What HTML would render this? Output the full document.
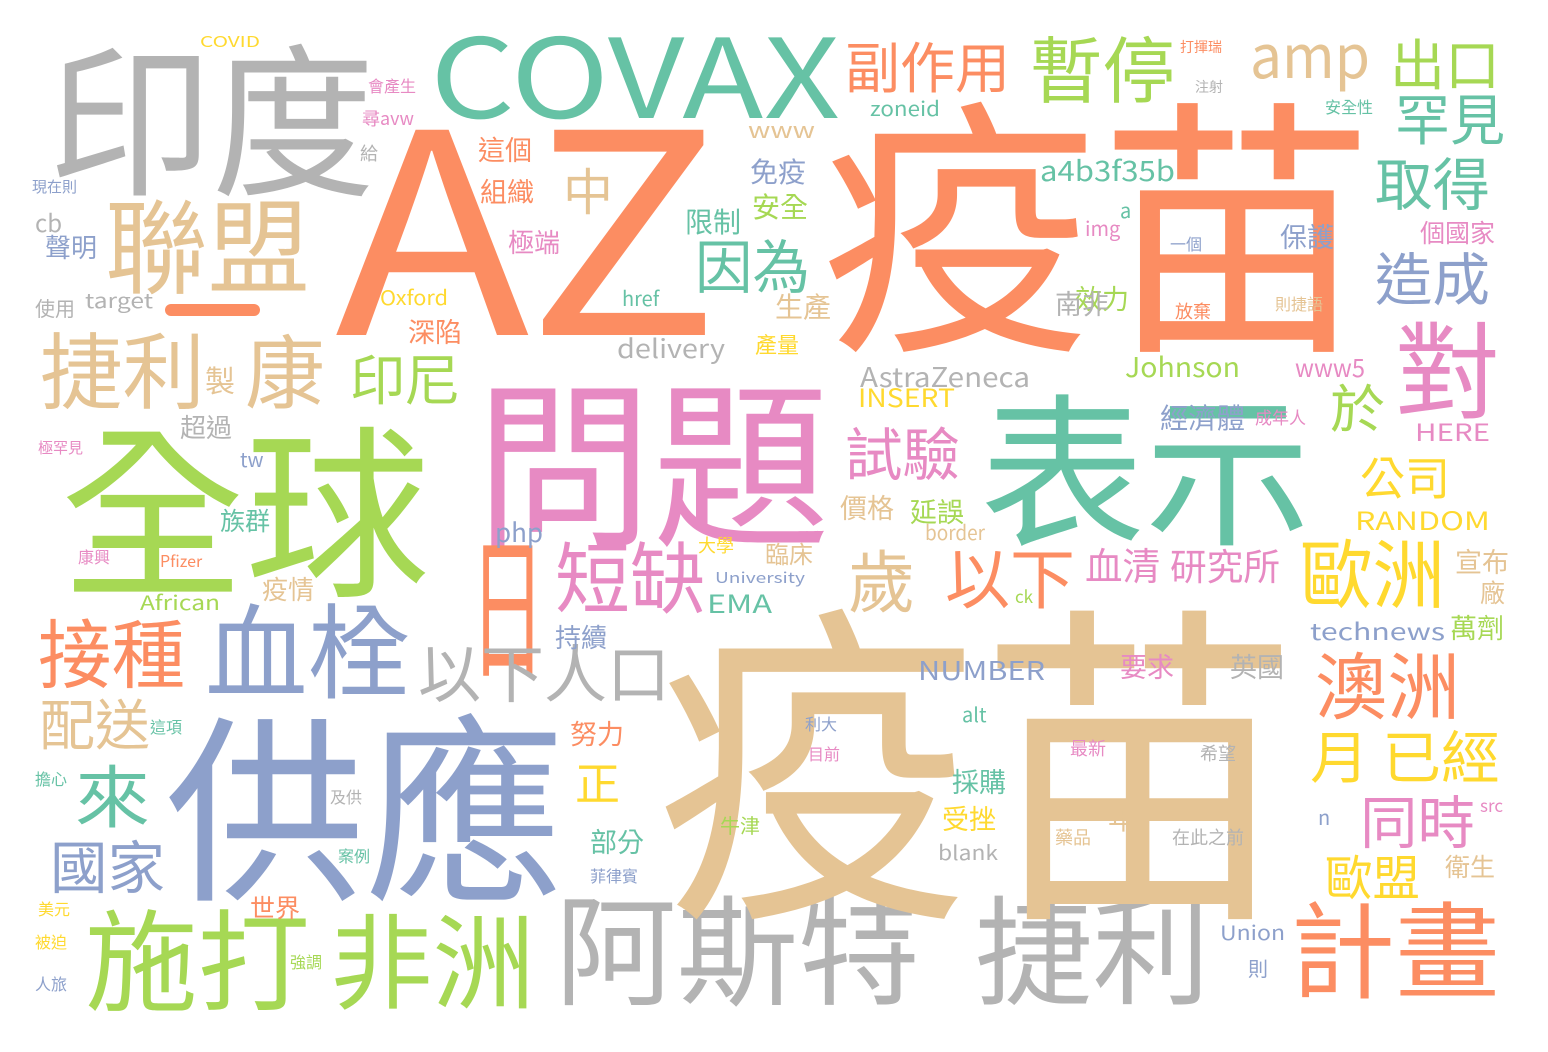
<!DOCTYPE html>
<html><head><meta charset="utf-8">
<style>
html,body{margin:0;padding:0;background:#fff;}
svg{display:block;}
text{font-family:"Noto Sans CJK TC","Liberation Sans",sans-serif;}
.g{fill:#b3b3b3}.o{fill:#fc8d62}.t{fill:#66c2a5}.b{fill:#8da0cb}.p{fill:#e78ac3}.l{fill:#a6d854}.y{fill:#ffd92f}.n{fill:#e5c494}
</style></head>
<body>
<svg width="1548" height="1052" viewBox="0 0 1548 1052">
<rect x="0" y="0" width="1548" height="1052" fill="#fff"/>
<rect x="165" y="304" width="95" height="12" rx="6" fill="#fc8d62"/>
<text class="g" x="48" y="183" font-size="165" textLength="327" lengthAdjust="spacingAndGlyphs">印度</text>
<text class="t" x="430" y="118" font-size="110" textLength="410" lengthAdjust="spacingAndGlyphs">COVAX</text>
<text class="o" x="335" y="335" font-size="280" textLength="385" lengthAdjust="spacingAndGlyphs">AZ</text>
<text class="o" x="820" y="330" font-size="270" textLength="555" lengthAdjust="spacingAndGlyphs">疫苗</text>
<text class="o" x="845" y="88" font-size="55" textLength="165" lengthAdjust="spacingAndGlyphs">副作用</text>
<text class="l" x="1030" y="97" font-size="72" textLength="145" lengthAdjust="spacingAndGlyphs">暫停</text>
<text class="n" x="1250" y="78" font-size="60" textLength="120" lengthAdjust="spacingAndGlyphs">amp</text>
<text class="l" x="1390" y="85" font-size="55" textLength="110" lengthAdjust="spacingAndGlyphs">出口</text>
<text class="t" x="1395" y="140" font-size="55" textLength="110" lengthAdjust="spacingAndGlyphs">罕見</text>
<text class="t" x="1375" y="205" font-size="57" textLength="115" lengthAdjust="spacingAndGlyphs">取得</text>
<text class="b" x="1375" y="300" font-size="57" textLength="115" lengthAdjust="spacingAndGlyphs">造成</text>
<text class="p" x="1395" y="410" font-size="105" textLength="105" lengthAdjust="spacingAndGlyphs">對</text>
<text class="n" x="105" y="285" font-size="103" textLength="205" lengthAdjust="spacingAndGlyphs">聯盟</text>
<text class="n" x="40" y="402" font-size="83" textLength="165" lengthAdjust="spacingAndGlyphs">捷利</text>
<text class="n" x="245" y="402" font-size="80" textLength="80" lengthAdjust="spacingAndGlyphs">康</text>
<text class="n" x="205" y="392" font-size="30">製</text>
<text class="l" x="60" y="582" font-size="185" textLength="370" lengthAdjust="spacingAndGlyphs">全球</text>
<text class="p" x="475" y="532" font-size="180" textLength="355" lengthAdjust="spacingAndGlyphs">問題</text>
<text class="t" x="980" y="533" font-size="165" textLength="330" lengthAdjust="spacingAndGlyphs">表示</text>
<text class="o" x="470" y="665" font-size="155" textLength="75" lengthAdjust="spacingAndGlyphs">日</text>
<text class="p" x="555" y="607" font-size="78" textLength="150" lengthAdjust="spacingAndGlyphs">短缺</text>
<text class="n" x="848" y="607" font-size="68" textLength="67" lengthAdjust="spacingAndGlyphs">歲</text>
<text class="o" x="945" y="603" font-size="66" textLength="130" lengthAdjust="spacingAndGlyphs">以下</text>
<text class="p" x="1085" y="580" font-size="38" textLength="75" lengthAdjust="spacingAndGlyphs">血清</text>
<text class="p" x="1170" y="580" font-size="37" textLength="110" lengthAdjust="spacingAndGlyphs">研究所</text>
<text class="y" x="1300" y="602" font-size="75" textLength="145" lengthAdjust="spacingAndGlyphs">歐洲</text>
<text class="y" x="1360" y="495" font-size="46" textLength="90" lengthAdjust="spacingAndGlyphs">公司</text>
<text class="l" x="1330" y="428" font-size="52" textLength="55" lengthAdjust="spacingAndGlyphs">於</text>
<text class="o" x="38" y="682" font-size="75" textLength="147" lengthAdjust="spacingAndGlyphs">接種</text>
<text class="b" x="205" y="690" font-size="103" textLength="205" lengthAdjust="spacingAndGlyphs">血栓</text>
<text class="g" x="418" y="697" font-size="63" textLength="252" lengthAdjust="spacingAndGlyphs">以下人口</text>
<text class="n" x="40" y="745" font-size="55" textLength="110" lengthAdjust="spacingAndGlyphs">配送</text>
<text class="t" x="75" y="822" font-size="68" textLength="75" lengthAdjust="spacingAndGlyphs">來</text>
<text class="b" x="50" y="888" font-size="57" textLength="115" lengthAdjust="spacingAndGlyphs">國家</text>
<text class="b" x="165" y="885" font-size="200" textLength="400" lengthAdjust="spacingAndGlyphs">供應</text>
<text class="l" x="85" y="1002" font-size="110" textLength="225" lengthAdjust="spacingAndGlyphs">施打</text>
<text class="l" x="330" y="1000" font-size="103" textLength="205" lengthAdjust="spacingAndGlyphs">非洲</text>
<text class="g" x="555" y="995" font-size="120" textLength="365" lengthAdjust="spacingAndGlyphs">阿斯特</text>
<text class="g" x="975" y="995" font-size="118" textLength="235" lengthAdjust="spacingAndGlyphs">捷利</text>
<text class="o" x="1290" y="990" font-size="105" textLength="210" lengthAdjust="spacingAndGlyphs">計畫</text>
<text class="n" x="655" y="892" font-size="335" textLength="645" lengthAdjust="spacingAndGlyphs">疫苗</text>
<text class="o" x="1315" y="713" font-size="73" textLength="145" lengthAdjust="spacingAndGlyphs">澳洲</text>
<text class="y" x="1310" y="778" font-size="57" textLength="190" lengthAdjust="spacingAndGlyphs">月 已經</text>
<text class="p" x="1360" y="843" font-size="57" textLength="115" lengthAdjust="spacingAndGlyphs">同時</text>
<text class="y" x="1325" y="895" font-size="48" textLength="95" lengthAdjust="spacingAndGlyphs">歐盟</text>
<text class="n" x="1445" y="876" font-size="25">衛生</text>
<text class="l" x="1450" y="638" font-size="27">萬劑</text>
<text class="n" x="1455" y="572" font-size="27">宣布</text>
<text class="n" x="1480" y="602" font-size="25">廠</text>
<text class="y" x="1355" y="530" font-size="25" textLength="135" lengthAdjust="spacingAndGlyphs">RANDOM</text>
<text class="p" x="1415" y="441" font-size="24" textLength="75" lengthAdjust="spacingAndGlyphs">HERE</text>
<text class="b" x="1160" y="428" font-size="28" textLength="85" lengthAdjust="spacingAndGlyphs">經濟體</text>
<text class="p" x="1255" y="424" font-size="17">成年人</text>
<text class="p" x="845" y="475" font-size="57" textLength="115" lengthAdjust="spacingAndGlyphs">試驗</text>
<text class="n" x="840" y="518" font-size="27">價格</text>
<text class="l" x="910" y="522" font-size="27">延誤</text>
<text class="n" x="925" y="540" font-size="20" textLength="60" lengthAdjust="spacingAndGlyphs">border</text>
<text class="n" x="765" y="563" font-size="24">臨床</text>
<text class="l" x="350" y="400" font-size="55" textLength="110" lengthAdjust="spacingAndGlyphs">印尼</text>
<text class="t" x="695" y="288" font-size="58" textLength="115" lengthAdjust="spacingAndGlyphs">因為</text>
<text class="n" x="563" y="210" font-size="50">中</text>
<text class="g" x="617" y="358" font-size="26" textLength="108" lengthAdjust="spacingAndGlyphs">delivery</text>
<text class="g" x="860" y="387" font-size="27" textLength="170" lengthAdjust="spacingAndGlyphs">AstraZeneca</text>
<text class="y" x="858" y="407" font-size="25" textLength="97" lengthAdjust="spacingAndGlyphs">INSERT</text>
<text class="l" x="1125" y="377" font-size="27" textLength="115" lengthAdjust="spacingAndGlyphs">Johnson</text>
<text class="p" x="1295" y="377" font-size="25" textLength="70" lengthAdjust="spacingAndGlyphs">www5</text>
<text class="t" x="1040" y="181" font-size="28" textLength="135" lengthAdjust="spacingAndGlyphs">a4b3f35b</text>
<text class="t" x="870" y="116" font-size="20" textLength="70" lengthAdjust="spacingAndGlyphs">zoneid</text>
<text class="n" x="748" y="138" font-size="22" textLength="67" lengthAdjust="spacingAndGlyphs">www</text>
<text class="b" x="750" y="182" font-size="28">免疫</text>
<text class="l" x="752" y="217" font-size="28">安全</text>
<text class="t" x="685" y="232" font-size="28">限制</text>
<text class="n" x="775" y="317" font-size="28">生產</text>
<text class="y" x="755" y="353" font-size="22">產量</text>
<text class="l" x="1075" y="309" font-size="27">效力</text>
<text class="g" x="1055" y="314" font-size="27">南非</text>
<text class="p" x="1085" y="236" font-size="20">img</text>
<text class="t" x="1120" y="218" font-size="20">a</text>
<text class="b" x="1280" y="247" font-size="27">保護</text>
<text class="p" x="1420" y="242" font-size="25">個國家</text>
<text class="t" x="1325" y="113" font-size="16">安全性</text>
<text class="o" x="478" y="160" font-size="27">這個</text>
<text class="o" x="480" y="202" font-size="27">組織</text>
<text class="p" x="508" y="252" font-size="26">極端</text>
<text class="o" x="408" y="342" font-size="27">深陷</text>
<text class="y" x="380" y="305" font-size="20" textLength="68" lengthAdjust="spacingAndGlyphs">Oxford</text>
<text class="t" x="622" y="306" font-size="20">href</text>
<text class="g" x="85" y="308" font-size="20" textLength="68" lengthAdjust="spacingAndGlyphs">target</text>
<text class="g" x="35" y="316" font-size="20">使用</text>
<text class="b" x="45" y="257" font-size="26">聲明</text>
<text class="g" x="35" y="232" font-size="24">cb</text>
<text class="b" x="32" y="192" font-size="15">現在則</text>
<text class="g" x="180" y="437" font-size="26">超過</text>
<text class="t" x="220" y="530" font-size="25">族群</text>
<text class="n" x="262" y="599" font-size="26">疫情</text>
<text class="b" x="240" y="467" font-size="20">tw</text>
<text class="o" x="250" y="917" font-size="25">世界</text>
<text class="b" x="495" y="542" font-size="26">php</text>
<text class="b" x="555" y="647" font-size="26">持續</text>
<text class="o" x="570" y="744" font-size="27">努力</text>
<text class="y" x="575" y="800" font-size="45">正</text>
<text class="t" x="590" y="852" font-size="27">部分</text>
<text class="t" x="707" y="613" font-size="25" textLength="65" lengthAdjust="spacingAndGlyphs">EMA</text>
<text class="b" x="918" y="680" font-size="26" textLength="127" lengthAdjust="spacingAndGlyphs">NUMBER</text>
<text class="p" x="1120" y="677" font-size="27">要求</text>
<text class="g" x="1230" y="677" font-size="27">英國</text>
<text class="b" x="1310" y="640" font-size="23" textLength="135" lengthAdjust="spacingAndGlyphs">technews</text>
<text class="t" x="962" y="722" font-size="20">alt</text>
<text class="t" x="952" y="792" font-size="27">採購</text>
<text class="y" x="942" y="829" font-size="27">受挫</text>
<text class="n" x="1108" y="829" font-size="28">年</text>
<text class="g" x="938" y="860" font-size="20" textLength="60" lengthAdjust="spacingAndGlyphs">blank</text>
<text class="b" x="1318" y="825" font-size="20">n</text>
<text class="p" x="1480" y="812" font-size="17">src</text>
<text class="b" x="1220" y="940" font-size="20" textLength="65" lengthAdjust="spacingAndGlyphs">Union</text>
<text class="b" x="1248" y="976" font-size="20">則</text>
<text class="l" x="1015" y="603" font-size="17">ck</text>
<text class="b" x="715" y="583" font-size="15" textLength="90" lengthAdjust="spacingAndGlyphs">University</text>
<text class="y" x="698" y="552" font-size="18">大學</text>
<text class="l" x="140" y="610" font-size="20" textLength="80" lengthAdjust="spacingAndGlyphs">African</text>
<text class="o" x="160" y="567" font-size="16">Pfizer</text>
<text class="y" x="200" y="47" font-size="15" textLength="60" lengthAdjust="spacingAndGlyphs">COVID</text>
<text class="l" x="720" y="833" font-size="20">牛津</text>
<text class="n" x="1055" y="844" font-size="18">藥品</text>
<text class="g" x="1172" y="844" font-size="18">在此之前</text>
<text class="p" x="1070" y="755" font-size="18">最新</text>
<text class="g" x="1200" y="760" font-size="18">希望</text>
<text class="p" x="362" y="125" font-size="18">尋avw</text>
<text class="g" x="360" y="160" font-size="18">給</text>
<text class="p" x="368" y="92" font-size="16">會產生</text>
<text class="o" x="1175" y="318" font-size="18">放棄</text>
<text class="n" x="1275" y="310" font-size="16">則捷語</text>
<text class="b" x="1170" y="250" font-size="16">一個</text>
<text class="o" x="1180" y="52" font-size="14">打揮瑞</text>
<text class="g" x="1195" y="92" font-size="14">注射</text>
<text class="p" x="808" y="760" font-size="16">目前</text>
<text class="b" x="805" y="730" font-size="16">利大</text>
<text class="g" x="330" y="803" font-size="16">及供</text>
<text class="t" x="338" y="862" font-size="16">案例</text>
<text class="b" x="590" y="882" font-size="16">菲律賓</text>
<text class="y" x="38" y="915" font-size="16">美元</text>
<text class="y" x="35" y="948" font-size="16">被迫</text>
<text class="b" x="35" y="990" font-size="16">人旅</text>
<text class="p" x="38" y="453" font-size="15">極罕見</text>
<text class="p" x="78" y="563" font-size="16">康興</text>
<text class="t" x="150" y="733" font-size="16">這項</text>
<text class="t" x="35" y="785" font-size="16">擔心</text>
<text class="l" x="290" y="968" font-size="16">強調</text>
</svg>
</body></html>
